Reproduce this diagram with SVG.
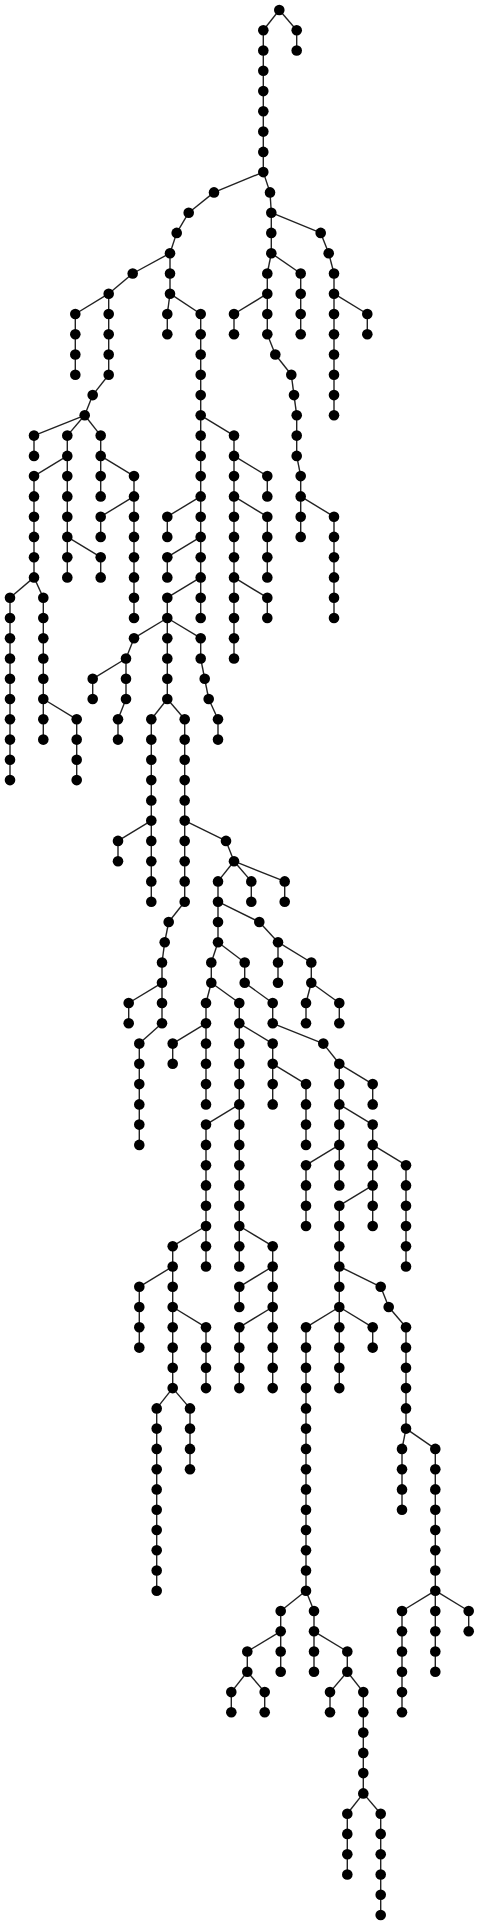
<svg xmlns="http://www.w3.org/2000/svg" width="479" height="1925" viewBox="0 0 479 1925">
<style>
#connectors path{stroke:#222;stroke-width:1.4;fill:none}
.n circle{fill:#000}
</style>
<rect width="479" height="1925" fill="#fff"/>
<g id="connectors">
<path d="M279.3 10L263.3 30.3"/><path d="M279.3 10L296.7 30.3"/>
<path d="M263.3 30.3L263.3 50.5"/><path d="M296.7 30.3L296.7 50.5"/>
<path d="M263.3 50.5L263.3 70.8"/><path d="M263.3 70.8L263.3 91.1"/><path d="M263.3 91.1L263.3 111.3"/><path d="M263.3 111.3L263.3 131.6"/><path d="M263.3 131.6L263.3 151.9"/><path d="M263.3 151.9L263.3 172.1"/>
<path d="M263.3 172.1L214 192.4"/><path d="M263.3 172.1L270 192.4"/>
<path d="M214 192.4L188.7 212.7"/><path d="M270 192.4L271.3 212.7"/>
<path d="M188.7 212.7L176.7 232.9"/><path d="M271.3 212.7L271.3 232.9"/><path d="M271.3 212.7L320.7 232.9"/>
<path d="M176.7 232.9L170 253.2"/><path d="M271.3 232.9L271.3 253.2"/><path d="M320.7 232.9L328.7 253.2"/>
<path d="M170 253.2L132.7 273.5"/><path d="M170 253.2L170 273.5"/><path d="M271.3 253.2L267.3 273.5"/><path d="M271.3 253.2L300.7 273.5"/><path d="M328.7 253.2L334 273.5"/>
<path d="M132.7 273.5L108.7 293.7"/><path d="M170 273.5L170 293.7"/><path d="M267.3 273.5L267.3 293.7"/><path d="M300.7 273.5L300.7 293.7"/><path d="M334 273.5L334 293.7"/>
<path d="M108.7 293.7L75.3 314"/><path d="M108.7 293.7L108.7 314"/><path d="M170 293.7L167.3 314"/><path d="M170 293.7L200.7 314"/><path d="M267.3 293.7L234 314"/><path d="M267.3 293.7L267.3 314"/><path d="M300.7 293.7L300.7 314"/><path d="M334 293.7L334 314"/><path d="M334 293.7L367.3 314"/>
<path d="M75.3 314L75.3 334.3"/><path d="M108.7 314L108.7 334.3"/><path d="M167.3 314L167.3 334.3"/><path d="M200.7 314L200.7 334.3"/><path d="M234 314L234 334.3"/><path d="M267.3 314L267.3 334.3"/><path d="M300.7 314L300.7 334.3"/><path d="M334 314L334 334.3"/><path d="M367.3 314L367.3 334.3"/>
<path d="M75.3 334.3L75.3 354.5"/><path d="M108.7 334.3L108.7 354.5"/><path d="M200.7 334.3L200.7 354.5"/><path d="M267.3 334.3L275.3 354.5"/><path d="M334 334.3L334 354.5"/>
<path d="M75.3 354.5L75.3 374.8"/><path d="M108.7 354.5L108.7 374.8"/><path d="M200.7 354.5L200.7 374.8"/><path d="M275.3 354.5L291.3 374.8"/><path d="M334 354.5L334 374.8"/>
<path d="M108.7 374.8L92.7 395.1"/><path d="M200.7 374.8L200.7 395.1"/><path d="M291.3 374.8L294 395.1"/><path d="M334 374.8L334 395.1"/>
<path d="M92.7 395.1L84.7 415.3"/><path d="M200.7 395.1L200.7 415.3"/><path d="M294 395.1L296.7 415.3"/><path d="M334 395.1L334 415.3"/>
<path d="M84.7 415.3L34 435.6"/><path d="M84.7 415.3L67.3 435.6"/><path d="M84.7 415.3L100.7 435.6"/><path d="M200.7 415.3L200.7 435.6"/><path d="M200.7 415.3L234 435.6"/><path d="M296.7 415.3L296.7 435.6"/>
<path d="M34 435.6L34 455.9"/><path d="M67.3 435.6L67.3 455.9"/><path d="M100.7 435.6L100.7 455.9"/><path d="M200.7 435.6L200.7 455.9"/><path d="M234 435.6L234 455.9"/><path d="M296.7 435.6L296.7 455.9"/>
<path d="M67.3 455.9L34 476.1"/><path d="M67.3 455.9L67.3 476.1"/><path d="M100.7 455.9L100.7 476.1"/><path d="M100.7 455.9L134 476.1"/><path d="M200.7 455.9L200.7 476.1"/><path d="M234 455.9L234 476.1"/><path d="M234 455.9L267.3 476.1"/><path d="M296.7 455.9L300.7 476.1"/>
<path d="M34 476.1L34 496.4"/><path d="M67.3 476.1L67.3 496.4"/><path d="M100.7 476.1L100.7 496.4"/><path d="M134 476.1L134 496.4"/><path d="M200.7 476.1L200.7 496.4"/><path d="M234 476.1L234 496.4"/><path d="M267.3 476.1L267.3 496.4"/><path d="M300.7 476.1L300.7 496.4"/>
<path d="M34 496.4L34 516.7"/><path d="M67.3 496.4L67.3 516.7"/><path d="M134 496.4L100.7 516.7"/><path d="M134 496.4L134 516.7"/><path d="M200.7 496.4L167.3 516.7"/><path d="M200.7 496.4L200.7 516.7"/><path d="M234 496.4L234 516.7"/><path d="M234 496.4L267.3 516.7"/><path d="M300.7 496.4L300.7 516.7"/><path d="M300.7 496.4L334 516.7"/>
<path d="M34 516.7L34 536.9"/><path d="M67.3 516.7L67.3 536.9"/><path d="M100.7 516.7L100.7 536.9"/><path d="M134 516.7L134 536.9"/><path d="M167.3 516.7L167.3 536.9"/><path d="M200.7 516.7L200.7 536.9"/><path d="M234 516.7L234 536.9"/><path d="M267.3 516.7L267.3 536.9"/><path d="M300.7 516.7L300.7 536.9"/><path d="M334 516.7L334 536.9"/>
<path d="M34 536.9L34 557.2"/><path d="M67.3 536.9L67.3 557.2"/><path d="M67.3 536.9L100.7 557.2"/><path d="M134 536.9L134 557.2"/><path d="M200.7 536.9L167.3 557.2"/><path d="M200.7 536.9L200.7 557.2"/><path d="M234 536.9L234 557.2"/><path d="M267.3 536.9L267.3 557.2"/><path d="M334 536.9L334 557.2"/>
<path d="M34 557.2L34 577.4"/><path d="M67.3 557.2L67.3 577.4"/><path d="M100.7 557.2L100.7 577.4"/><path d="M134 557.2L134 577.4"/><path d="M167.3 557.2L167.3 577.4"/><path d="M200.7 557.2L200.7 577.4"/><path d="M234 557.2L234 577.4"/><path d="M267.3 557.2L267.3 577.4"/><path d="M334 557.2L334 577.4"/>
<path d="M34 577.4L10 597.7"/><path d="M34 577.4L43.3 597.7"/><path d="M134 577.4L134 597.7"/><path d="M200.7 577.4L167.3 597.7"/><path d="M200.7 577.4L200.7 597.7"/><path d="M234 577.4L234 597.7"/><path d="M234 577.4L267.3 597.7"/><path d="M334 577.4L334 597.7"/>
<path d="M10 597.7L10 618"/><path d="M43.3 597.7L43.3 618"/><path d="M134 597.7L134 618"/><path d="M167.3 597.7L167.3 618"/><path d="M200.7 597.7L200.7 618"/><path d="M234 597.7L234 618"/><path d="M267.3 597.7L267.3 618"/><path d="M334 597.7L334 618"/>
<path d="M10 618L10 638.2"/><path d="M43.3 618L43.3 638.2"/><path d="M167.3 618L134 638.2"/><path d="M167.3 618L167.3 638.2"/><path d="M167.3 618L200.7 638.2"/><path d="M234 618L234 638.2"/>
<path d="M10 638.2L10 658.5"/><path d="M43.3 638.2L43.3 658.5"/><path d="M134 638.2L126 658.5"/><path d="M167.3 638.2L167.3 658.5"/><path d="M200.7 638.2L200.7 658.5"/><path d="M234 638.2L234 658.5"/>
<path d="M10 658.5L10 678.8"/><path d="M43.3 658.5L43.3 678.8"/><path d="M126 658.5L92.7 678.8"/><path d="M126 658.5L126 678.8"/><path d="M167.3 658.5L167.3 678.8"/><path d="M200.7 658.5L204.7 678.8"/>
<path d="M10 678.8L10 699"/><path d="M43.3 678.8L43.3 699"/><path d="M92.7 678.8L92.7 699"/><path d="M126 678.8L126 699"/><path d="M167.3 678.8L167.3 699"/><path d="M204.7 678.8L208.7 699"/>
<path d="M10 699L10 719.3"/><path d="M43.3 699L43.3 719.3"/><path d="M43.3 699L76.7 719.3"/><path d="M126 699L118 719.3"/><path d="M167.3 699L151.3 719.3"/><path d="M167.3 699L184.7 719.3"/><path d="M208.7 699L218 719.3"/>
<path d="M10 719.3L10 739.6"/><path d="M43.3 719.3L43.3 739.6"/><path d="M76.7 719.3L76.7 739.6"/><path d="M118 719.3L118 739.6"/><path d="M151.3 719.3L151.3 739.6"/><path d="M184.7 719.3L184.7 739.6"/><path d="M218 719.3L218 739.6"/>
<path d="M10 739.6L10 759.8"/><path d="M76.7 739.6L76.7 759.8"/><path d="M151.3 739.6L151.3 759.8"/><path d="M184.7 739.6L184.7 759.8"/>
<path d="M10 759.8L10 780.1"/><path d="M76.7 759.8L76.7 780.1"/><path d="M151.3 759.8L151.3 780.1"/><path d="M184.7 759.8L184.7 780.1"/>
<path d="M151.3 780.1L151.3 800.4"/><path d="M184.7 780.1L184.7 800.4"/>
<path d="M151.3 800.4L151.3 820.6"/><path d="M184.7 800.4L184.7 820.6"/>
<path d="M151.3 820.6L118 840.9"/><path d="M151.3 820.6L151.3 840.9"/><path d="M184.7 820.6L184.7 840.9"/><path d="M184.7 820.6L226 840.9"/>
<path d="M118 840.9L118 861.2"/><path d="M151.3 840.9L151.3 861.2"/><path d="M184.7 840.9L184.7 861.2"/><path d="M226 840.9L234 861.2"/>
<path d="M151.3 861.2L151.3 881.4"/><path d="M184.7 861.2L184.7 881.4"/><path d="M234 861.2L218 881.4"/><path d="M234 861.2L251.3 881.4"/><path d="M234 861.2L284.7 881.4"/>
<path d="M151.3 881.4L151.3 901.7"/><path d="M184.7 881.4L184.7 901.7"/><path d="M218 881.4L218 901.7"/><path d="M251.3 881.4L251.3 901.7"/><path d="M284.7 881.4L284.7 901.7"/>
<path d="M184.7 901.7L168.7 922"/><path d="M218 901.7L218 922"/><path d="M218 901.7L259.3 922"/>
<path d="M168.7 922L164.7 942.2"/><path d="M218 922L218 942.2"/><path d="M259.3 922L278 942.2"/>
<path d="M164.7 942.2L162 962.5"/><path d="M218 942.2L211.3 962.5"/><path d="M218 942.2L244.7 962.5"/><path d="M278 942.2L278 962.5"/><path d="M278 942.2L311.3 962.5"/>
<path d="M162 962.5L162 982.8"/><path d="M211.3 962.5L211.3 982.8"/><path d="M244.7 962.5L244.7 982.8"/><path d="M278 962.5L278 982.8"/><path d="M311.3 962.5L311.3 982.8"/>
<path d="M162 982.8L128.7 1003"/><path d="M162 982.8L162 1003"/><path d="M211.3 982.8L206 1003"/><path d="M211.3 982.8L239.3 1003"/><path d="M244.7 982.8L272.7 1003"/><path d="M311.3 982.8L306 1003"/><path d="M311.3 982.8L339.3 1003"/>
<path d="M128.7 1003L128.7 1023.3"/><path d="M162 1003L162 1023.3"/><path d="M206 1003L206 1023.3"/><path d="M239.3 1003L239.3 1023.3"/><path d="M272.7 1003L272.7 1023.3"/><path d="M306 1003L306 1023.3"/><path d="M339.3 1003L339.3 1023.3"/>
<path d="M162 1023.3L139.3 1043.6"/><path d="M206 1023.3L172.7 1043.6"/><path d="M206 1023.3L206 1043.6"/><path d="M239.3 1023.3L239.3 1043.6"/><path d="M239.3 1023.3L272.7 1043.6"/><path d="M272.7 1023.3L323.3 1043.6"/>
<path d="M139.3 1043.6L139.3 1063.8"/><path d="M172.7 1043.6L172.7 1063.8"/><path d="M206 1043.6L206 1063.8"/><path d="M239.3 1043.6L239.3 1063.8"/><path d="M272.7 1043.6L272.7 1063.8"/><path d="M323.3 1043.6L339.3 1063.8"/>
<path d="M139.3 1063.8L139.3 1084.1"/><path d="M206 1063.8L206 1084.1"/><path d="M239.3 1063.8L239.3 1084.1"/><path d="M272.7 1063.8L272.7 1084.1"/><path d="M272.7 1063.8L306 1084.1"/><path d="M339.3 1063.8L339.3 1084.1"/><path d="M339.3 1063.8L372.7 1084.1"/>
<path d="M139.3 1084.1L139.3 1104.4"/><path d="M206 1084.1L206 1104.4"/><path d="M239.3 1084.1L239.3 1104.4"/><path d="M272.7 1084.1L272.7 1104.4"/><path d="M306 1084.1L306 1104.4"/><path d="M339.3 1084.1L339.3 1104.4"/><path d="M372.7 1084.1L372.7 1104.4"/>
<path d="M139.3 1104.4L139.3 1124.6"/><path d="M239.3 1104.4L206 1124.6"/><path d="M239.3 1104.4L239.3 1124.6"/><path d="M306 1104.4L306 1124.6"/><path d="M339.3 1104.4L339.3 1124.6"/><path d="M339.3 1104.4L372.7 1124.6"/>
<path d="M139.3 1124.6L139.3 1144.9"/><path d="M206 1124.6L206 1144.9"/><path d="M239.3 1124.6L239.3 1144.9"/><path d="M306 1124.6L306 1144.9"/><path d="M339.3 1124.6L339.3 1144.9"/><path d="M372.7 1124.6L372.7 1144.9"/>
<path d="M206 1144.9L206 1165.2"/><path d="M239.3 1144.9L239.3 1165.2"/><path d="M339.3 1144.9L306 1165.2"/><path d="M339.3 1144.9L339.3 1165.2"/><path d="M372.7 1144.9L372.7 1165.2"/><path d="M372.7 1144.9L406 1165.2"/>
<path d="M206 1165.2L206 1185.4"/><path d="M239.3 1165.2L239.3 1185.4"/><path d="M306 1165.2L306 1185.4"/><path d="M339.3 1165.2L339.3 1185.4"/><path d="M372.7 1165.2L372.7 1185.4"/><path d="M406 1165.2L406 1185.4"/>
<path d="M206 1185.4L206 1205.7"/><path d="M239.3 1185.4L239.3 1205.7"/><path d="M306 1185.4L306 1205.7"/><path d="M372.7 1185.4L339.3 1205.7"/><path d="M372.7 1185.4L372.7 1205.7"/><path d="M406 1185.4L406 1205.7"/>
<path d="M206 1205.7L206 1226"/><path d="M239.3 1205.7L239.3 1226"/><path d="M306 1205.7L306 1226"/><path d="M339.3 1205.7L339.3 1226"/><path d="M372.7 1205.7L372.7 1226"/><path d="M406 1205.7L406 1226"/>
<path d="M206 1226L172.7 1246.2"/><path d="M206 1226L206 1246.2"/><path d="M239.3 1226L239.3 1246.2"/><path d="M239.3 1226L272.7 1246.2"/><path d="M339.3 1226L339.3 1246.2"/><path d="M406 1226L406 1246.2"/>
<path d="M172.7 1246.2L172.7 1266.5"/><path d="M206 1246.2L206 1266.5"/><path d="M239.3 1246.2L239.3 1266.5"/><path d="M272.7 1246.2L272.7 1266.5"/><path d="M339.3 1246.2L339.3 1266.5"/><path d="M406 1246.2L406 1266.5"/>
<path d="M172.7 1266.5L139.3 1286.8"/><path d="M172.7 1266.5L172.7 1286.8"/><path d="M272.7 1266.5L239.3 1286.8"/><path d="M272.7 1266.5L272.7 1286.8"/><path d="M339.3 1266.5L339.3 1286.8"/><path d="M339.3 1266.5L380.7 1286.8"/>
<path d="M139.3 1286.8L139.3 1307"/><path d="M172.7 1286.8L172.7 1307"/><path d="M239.3 1286.8L239.3 1307"/><path d="M272.7 1286.8L272.7 1307"/><path d="M339.3 1286.8L339.3 1307"/><path d="M380.7 1286.8L388.7 1307"/>
<path d="M139.3 1307L139.3 1327.3"/><path d="M172.7 1307L172.7 1327.3"/><path d="M172.7 1307L206 1327.3"/><path d="M272.7 1307L239.3 1327.3"/><path d="M272.7 1307L272.7 1327.3"/><path d="M339.3 1307L306 1327.3"/><path d="M339.3 1307L339.3 1327.3"/><path d="M339.3 1307L372.7 1327.3"/><path d="M388.7 1307L406 1327.3"/>
<path d="M139.3 1327.3L139.3 1347.6"/><path d="M172.7 1327.3L172.7 1347.6"/><path d="M206 1327.3L206 1347.6"/><path d="M239.3 1327.3L239.3 1347.6"/><path d="M272.7 1327.3L272.7 1347.6"/><path d="M306 1327.3L306 1347.6"/><path d="M339.3 1327.3L339.3 1347.6"/><path d="M372.7 1327.3L372.7 1347.6"/><path d="M406 1327.3L406 1347.6"/>
<path d="M172.7 1347.6L172.7 1367.8"/><path d="M206 1347.6L206 1367.8"/><path d="M239.3 1347.6L239.3 1367.8"/><path d="M272.7 1347.6L272.7 1367.8"/><path d="M306 1347.6L306 1367.8"/><path d="M339.3 1347.6L339.3 1367.8"/><path d="M406 1347.6L406 1367.8"/>
<path d="M172.7 1367.8L172.7 1388.1"/><path d="M206 1367.8L206 1388.1"/><path d="M239.3 1367.8L239.3 1388.1"/><path d="M272.7 1367.8L272.7 1388.1"/><path d="M306 1367.8L306 1388.1"/><path d="M339.3 1367.8L339.3 1388.1"/><path d="M406 1367.8L406 1388.1"/>
<path d="M172.7 1388.1L156.7 1408.4"/><path d="M172.7 1388.1L190 1408.4"/><path d="M306 1388.1L306 1408.4"/><path d="M406 1388.1L406 1408.4"/>
<path d="M156.7 1408.4L156.7 1428.6"/><path d="M190 1408.4L190 1428.6"/><path d="M306 1408.4L306 1428.6"/><path d="M406 1408.4L406 1428.6"/>
<path d="M156.7 1428.6L156.7 1448.9"/><path d="M190 1428.6L190 1448.9"/><path d="M306 1428.6L306 1448.9"/><path d="M406 1428.6L402 1448.9"/><path d="M406 1428.6L435.3 1448.9"/>
<path d="M156.7 1448.9L156.7 1469.2"/><path d="M190 1448.9L190 1469.2"/><path d="M306 1448.9L306 1469.2"/><path d="M402 1448.9L402 1469.2"/><path d="M435.3 1448.9L435.3 1469.2"/>
<path d="M156.7 1469.2L156.7 1489.4"/><path d="M306 1469.2L306 1489.4"/><path d="M402 1469.2L402 1489.4"/><path d="M435.3 1469.2L435.3 1489.4"/>
<path d="M156.7 1489.4L156.7 1509.7"/><path d="M306 1489.4L306 1509.7"/><path d="M402 1489.4L402 1509.7"/><path d="M435.3 1489.4L435.3 1509.7"/>
<path d="M156.7 1509.7L156.7 1530"/><path d="M306 1509.7L306 1530"/><path d="M435.3 1509.7L435.3 1530"/>
<path d="M156.7 1530L156.7 1550.2"/><path d="M306 1530L306 1550.2"/><path d="M435.3 1530L435.3 1550.2"/>
<path d="M156.7 1550.2L156.7 1570.5"/><path d="M306 1550.2L306 1570.5"/><path d="M435.3 1550.2L435.3 1570.5"/>
<path d="M156.7 1570.5L156.7 1590.7"/><path d="M306 1570.5L306 1590.7"/><path d="M435.3 1570.5L435.3 1590.7"/>
<path d="M306 1590.7L280.7 1611"/><path d="M306 1590.7L314 1611"/><path d="M435.3 1590.7L402 1611"/><path d="M435.3 1590.7L435.3 1611"/><path d="M435.3 1590.7L468.7 1611"/>
<path d="M280.7 1611L280.7 1631.3"/><path d="M314 1611L314 1631.3"/><path d="M402 1611L402 1631.3"/><path d="M435.3 1611L435.3 1631.3"/><path d="M468.7 1611L468.7 1631.3"/>
<path d="M280.7 1631.3L247.3 1651.5"/><path d="M280.7 1631.3L280.7 1651.5"/><path d="M314 1631.3L314 1651.5"/><path d="M314 1631.3L347.3 1651.5"/><path d="M402 1631.3L402 1651.5"/><path d="M435.3 1631.3L435.3 1651.5"/>
<path d="M247.3 1651.5L247.3 1671.8"/><path d="M280.7 1651.5L280.7 1671.8"/><path d="M314 1651.5L314 1671.8"/><path d="M347.3 1651.5L347.3 1671.8"/><path d="M402 1651.5L402 1671.8"/><path d="M435.3 1651.5L435.3 1671.8"/>
<path d="M247.3 1671.8L231.3 1692.1"/><path d="M247.3 1671.8L264.7 1692.1"/><path d="M347.3 1671.8L330 1692.1"/><path d="M347.3 1671.8L363.3 1692.1"/><path d="M402 1671.8L402 1692.1"/>
<path d="M231.3 1692.1L231.3 1712.3"/><path d="M264.7 1692.1L264.7 1712.3"/><path d="M330 1692.1L330 1712.3"/><path d="M363.3 1692.1L363.3 1712.3"/><path d="M402 1692.1L402 1712.3"/>
<path d="M363.3 1712.3L363.3 1732.6"/><path d="M363.3 1732.6L363.3 1752.9"/><path d="M363.3 1752.9L363.3 1773.1"/><path d="M363.3 1773.1L363.3 1793.4"/>
<path d="M363.3 1793.4L347.3 1813.7"/><path d="M363.3 1793.4L380.7 1813.7"/>
<path d="M347.3 1813.7L347.3 1833.9"/><path d="M380.7 1813.7L380.7 1833.9"/>
<path d="M347.3 1833.9L347.3 1854.2"/><path d="M380.7 1833.9L380.7 1854.2"/>
<path d="M347.3 1854.2L347.3 1874.5"/><path d="M380.7 1854.2L380.7 1874.5"/>
<path d="M380.7 1874.5L380.7 1894.7"/><path d="M380.7 1894.7L380.7 1915"/>
</g>
<g id="nodes">
<g id="n1" class="n"><circle cx="279.3" cy="10" r="5.3"/></g>
<g id="n2" class="n"><circle cx="263.3" cy="30.3" r="5.3"/></g>
<g id="n3" class="n"><circle cx="296.7" cy="30.3" r="5.3"/></g>
<g id="n4" class="n"><circle cx="263.3" cy="50.5" r="5.3"/></g>
<g id="n5" class="n"><circle cx="296.7" cy="50.5" r="5.3"/></g>
<g id="n6" class="n"><circle cx="263.3" cy="70.8" r="5.3"/></g>
<g id="n7" class="n"><circle cx="263.3" cy="91.1" r="5.3"/></g>
<g id="n8" class="n"><circle cx="263.3" cy="111.3" r="5.3"/></g>
<g id="n9" class="n"><circle cx="263.3" cy="131.6" r="5.3"/></g>
<g id="n10" class="n"><circle cx="263.3" cy="151.9" r="5.3"/></g>
<g id="n11" class="n"><circle cx="263.3" cy="172.1" r="5.3"/></g>
<g id="n12" class="n"><circle cx="214" cy="192.4" r="5.3"/></g>
<g id="n13" class="n"><circle cx="270" cy="192.4" r="5.3"/></g>
<g id="n14" class="n"><circle cx="188.7" cy="212.7" r="5.3"/></g>
<g id="n15" class="n"><circle cx="271.3" cy="212.7" r="5.3"/></g>
<g id="n16" class="n"><circle cx="176.7" cy="232.9" r="5.3"/></g>
<g id="n17" class="n"><circle cx="271.3" cy="232.9" r="5.3"/></g>
<g id="n18" class="n"><circle cx="320.7" cy="232.9" r="5.3"/></g>
<g id="n19" class="n"><circle cx="170" cy="253.2" r="5.3"/></g>
<g id="n20" class="n"><circle cx="271.3" cy="253.2" r="5.3"/></g>
<g id="n21" class="n"><circle cx="328.7" cy="253.2" r="5.3"/></g>
<g id="n22" class="n"><circle cx="132.7" cy="273.5" r="5.3"/></g>
<g id="n23" class="n"><circle cx="170" cy="273.5" r="5.3"/></g>
<g id="n24" class="n"><circle cx="267.3" cy="273.5" r="5.3"/></g>
<g id="n25" class="n"><circle cx="300.7" cy="273.5" r="5.3"/></g>
<g id="n26" class="n"><circle cx="334" cy="273.5" r="5.3"/></g>
<g id="n27" class="n"><circle cx="108.7" cy="293.7" r="5.3"/></g>
<g id="n28" class="n"><circle cx="170" cy="293.7" r="5.3"/></g>
<g id="n29" class="n"><circle cx="267.3" cy="293.7" r="5.3"/></g>
<g id="n30" class="n"><circle cx="300.7" cy="293.7" r="5.3"/></g>
<g id="n31" class="n"><circle cx="334" cy="293.7" r="5.3"/></g>
<g id="n32" class="n"><circle cx="75.3" cy="314" r="5.3"/></g>
<g id="n33" class="n"><circle cx="108.7" cy="314" r="5.3"/></g>
<g id="n34" class="n"><circle cx="167.3" cy="314" r="5.3"/></g>
<g id="n35" class="n"><circle cx="200.7" cy="314" r="5.3"/></g>
<g id="n36" class="n"><circle cx="234" cy="314" r="5.3"/></g>
<g id="n37" class="n"><circle cx="267.3" cy="314" r="5.3"/></g>
<g id="n38" class="n"><circle cx="300.7" cy="314" r="5.3"/></g>
<g id="n39" class="n"><circle cx="334" cy="314" r="5.3"/></g>
<g id="n40" class="n"><circle cx="367.3" cy="314" r="5.3"/></g>
<g id="n41" class="n"><circle cx="75.3" cy="334.3" r="5.3"/></g>
<g id="n42" class="n"><circle cx="108.7" cy="334.3" r="5.3"/></g>
<g id="n43" class="n"><circle cx="167.3" cy="334.3" r="5.3"/></g>
<g id="n44" class="n"><circle cx="200.7" cy="334.3" r="5.3"/></g>
<g id="n45" class="n"><circle cx="234" cy="334.3" r="5.3"/></g>
<g id="n46" class="n"><circle cx="267.3" cy="334.3" r="5.3"/></g>
<g id="n47" class="n"><circle cx="300.7" cy="334.3" r="5.3"/></g>
<g id="n48" class="n"><circle cx="334" cy="334.3" r="5.3"/></g>
<g id="n49" class="n"><circle cx="367.3" cy="334.3" r="5.3"/></g>
<g id="n50" class="n"><circle cx="75.3" cy="354.5" r="5.3"/></g>
<g id="n51" class="n"><circle cx="108.7" cy="354.5" r="5.3"/></g>
<g id="n52" class="n"><circle cx="200.7" cy="354.5" r="5.3"/></g>
<g id="n53" class="n"><circle cx="275.3" cy="354.5" r="5.3"/></g>
<g id="n54" class="n"><circle cx="334" cy="354.5" r="5.3"/></g>
<g id="n55" class="n"><circle cx="75.3" cy="374.8" r="5.3"/></g>
<g id="n56" class="n"><circle cx="108.7" cy="374.8" r="5.3"/></g>
<g id="n57" class="n"><circle cx="200.7" cy="374.8" r="5.3"/></g>
<g id="n58" class="n"><circle cx="291.3" cy="374.8" r="5.3"/></g>
<g id="n59" class="n"><circle cx="334" cy="374.8" r="5.3"/></g>
<g id="n60" class="n"><circle cx="92.7" cy="395.1" r="5.3"/></g>
<g id="n61" class="n"><circle cx="200.7" cy="395.1" r="5.3"/></g>
<g id="n62" class="n"><circle cx="294" cy="395.1" r="5.3"/></g>
<g id="n63" class="n"><circle cx="334" cy="395.1" r="5.3"/></g>
<g id="n64" class="n"><circle cx="84.7" cy="415.3" r="5.3"/></g>
<g id="n65" class="n"><circle cx="200.7" cy="415.3" r="5.3"/></g>
<g id="n66" class="n"><circle cx="296.7" cy="415.3" r="5.3"/></g>
<g id="n67" class="n"><circle cx="334" cy="415.3" r="5.3"/></g>
<g id="n68" class="n"><circle cx="34" cy="435.6" r="5.3"/></g>
<g id="n69" class="n"><circle cx="67.3" cy="435.6" r="5.3"/></g>
<g id="n70" class="n"><circle cx="100.7" cy="435.6" r="5.3"/></g>
<g id="n71" class="n"><circle cx="200.7" cy="435.6" r="5.3"/></g>
<g id="n72" class="n"><circle cx="234" cy="435.6" r="5.3"/></g>
<g id="n73" class="n"><circle cx="296.7" cy="435.6" r="5.3"/></g>
<g id="n74" class="n"><circle cx="34" cy="455.9" r="5.3"/></g>
<g id="n75" class="n"><circle cx="67.3" cy="455.9" r="5.3"/></g>
<g id="n76" class="n"><circle cx="100.7" cy="455.9" r="5.3"/></g>
<g id="n77" class="n"><circle cx="200.7" cy="455.9" r="5.3"/></g>
<g id="n78" class="n"><circle cx="234" cy="455.9" r="5.3"/></g>
<g id="n79" class="n"><circle cx="296.7" cy="455.9" r="5.3"/></g>
<g id="n80" class="n"><circle cx="34" cy="476.1" r="5.3"/></g>
<g id="n81" class="n"><circle cx="67.3" cy="476.1" r="5.3"/></g>
<g id="n82" class="n"><circle cx="100.7" cy="476.1" r="5.3"/></g>
<g id="n83" class="n"><circle cx="134" cy="476.1" r="5.3"/></g>
<g id="n84" class="n"><circle cx="200.7" cy="476.1" r="5.3"/></g>
<g id="n85" class="n"><circle cx="234" cy="476.1" r="5.3"/></g>
<g id="n86" class="n"><circle cx="267.3" cy="476.1" r="5.3"/></g>
<g id="n87" class="n"><circle cx="300.7" cy="476.1" r="5.3"/></g>
<g id="n88" class="n"><circle cx="34" cy="496.4" r="5.3"/></g>
<g id="n89" class="n"><circle cx="67.3" cy="496.4" r="5.3"/></g>
<g id="n90" class="n"><circle cx="100.7" cy="496.4" r="5.3"/></g>
<g id="n91" class="n"><circle cx="134" cy="496.4" r="5.3"/></g>
<g id="n92" class="n"><circle cx="200.7" cy="496.4" r="5.3"/></g>
<g id="n93" class="n"><circle cx="234" cy="496.4" r="5.3"/></g>
<g id="n94" class="n"><circle cx="267.3" cy="496.4" r="5.3"/></g>
<g id="n95" class="n"><circle cx="300.7" cy="496.4" r="5.3"/></g>
<g id="n96" class="n"><circle cx="34" cy="516.7" r="5.3"/></g>
<g id="n97" class="n"><circle cx="67.3" cy="516.7" r="5.3"/></g>
<g id="n98" class="n"><circle cx="100.7" cy="516.7" r="5.3"/></g>
<g id="n99" class="n"><circle cx="134" cy="516.7" r="5.3"/></g>
<g id="n100" class="n"><circle cx="167.3" cy="516.7" r="5.3"/></g>
<g id="n101" class="n"><circle cx="200.7" cy="516.7" r="5.3"/></g>
<g id="n102" class="n"><circle cx="234" cy="516.7" r="5.3"/></g>
<g id="n103" class="n"><circle cx="267.3" cy="516.7" r="5.3"/></g>
<g id="n104" class="n"><circle cx="300.7" cy="516.7" r="5.3"/></g>
<g id="n105" class="n"><circle cx="334" cy="516.7" r="5.3"/></g>
<g id="n106" class="n"><circle cx="34" cy="536.9" r="5.3"/></g>
<g id="n107" class="n"><circle cx="67.3" cy="536.9" r="5.3"/></g>
<g id="n108" class="n"><circle cx="100.7" cy="536.9" r="5.3"/></g>
<g id="n109" class="n"><circle cx="134" cy="536.9" r="5.3"/></g>
<g id="n110" class="n"><circle cx="167.3" cy="536.9" r="5.3"/></g>
<g id="n111" class="n"><circle cx="200.7" cy="536.9" r="5.3"/></g>
<g id="n112" class="n"><circle cx="234" cy="536.9" r="5.3"/></g>
<g id="n113" class="n"><circle cx="267.3" cy="536.9" r="5.3"/></g>
<g id="n114" class="n"><circle cx="300.7" cy="536.9" r="5.3"/></g>
<g id="n115" class="n"><circle cx="334" cy="536.9" r="5.3"/></g>
<g id="n116" class="n"><circle cx="34" cy="557.2" r="5.3"/></g>
<g id="n117" class="n"><circle cx="67.3" cy="557.2" r="5.3"/></g>
<g id="n118" class="n"><circle cx="100.7" cy="557.2" r="5.3"/></g>
<g id="n119" class="n"><circle cx="134" cy="557.2" r="5.3"/></g>
<g id="n120" class="n"><circle cx="167.3" cy="557.2" r="5.3"/></g>
<g id="n121" class="n"><circle cx="200.7" cy="557.2" r="5.3"/></g>
<g id="n122" class="n"><circle cx="234" cy="557.2" r="5.3"/></g>
<g id="n123" class="n"><circle cx="267.3" cy="557.2" r="5.3"/></g>
<g id="n124" class="n"><circle cx="334" cy="557.2" r="5.3"/></g>
<g id="n125" class="n"><circle cx="34" cy="577.4" r="5.3"/></g>
<g id="n126" class="n"><circle cx="67.3" cy="577.4" r="5.3"/></g>
<g id="n127" class="n"><circle cx="100.7" cy="577.4" r="5.3"/></g>
<g id="n128" class="n"><circle cx="134" cy="577.4" r="5.3"/></g>
<g id="n129" class="n"><circle cx="167.3" cy="577.4" r="5.3"/></g>
<g id="n130" class="n"><circle cx="200.7" cy="577.4" r="5.3"/></g>
<g id="n131" class="n"><circle cx="234" cy="577.4" r="5.3"/></g>
<g id="n132" class="n"><circle cx="267.3" cy="577.4" r="5.3"/></g>
<g id="n133" class="n"><circle cx="334" cy="577.4" r="5.3"/></g>
<g id="n134" class="n"><circle cx="10" cy="597.7" r="5.3"/></g>
<g id="n135" class="n"><circle cx="43.3" cy="597.7" r="5.3"/></g>
<g id="n136" class="n"><circle cx="134" cy="597.7" r="5.3"/></g>
<g id="n137" class="n"><circle cx="167.3" cy="597.7" r="5.3"/></g>
<g id="n138" class="n"><circle cx="200.7" cy="597.7" r="5.3"/></g>
<g id="n139" class="n"><circle cx="234" cy="597.7" r="5.3"/></g>
<g id="n140" class="n"><circle cx="267.3" cy="597.7" r="5.3"/></g>
<g id="n141" class="n"><circle cx="334" cy="597.7" r="5.3"/></g>
<g id="n142" class="n"><circle cx="10" cy="618" r="5.3"/></g>
<g id="n143" class="n"><circle cx="43.3" cy="618" r="5.3"/></g>
<g id="n144" class="n"><circle cx="134" cy="618" r="5.3"/></g>
<g id="n145" class="n"><circle cx="167.3" cy="618" r="5.3"/></g>
<g id="n146" class="n"><circle cx="200.7" cy="618" r="5.3"/></g>
<g id="n147" class="n"><circle cx="234" cy="618" r="5.3"/></g>
<g id="n148" class="n"><circle cx="267.3" cy="618" r="5.3"/></g>
<g id="n149" class="n"><circle cx="334" cy="618" r="5.3"/></g>
<g id="n150" class="n"><circle cx="10" cy="638.2" r="5.3"/></g>
<g id="n151" class="n"><circle cx="43.3" cy="638.2" r="5.3"/></g>
<g id="n152" class="n"><circle cx="134" cy="638.2" r="5.3"/></g>
<g id="n153" class="n"><circle cx="167.3" cy="638.2" r="5.3"/></g>
<g id="n154" class="n"><circle cx="200.7" cy="638.2" r="5.3"/></g>
<g id="n155" class="n"><circle cx="234" cy="638.2" r="5.3"/></g>
<g id="n156" class="n"><circle cx="10" cy="658.5" r="5.3"/></g>
<g id="n157" class="n"><circle cx="43.3" cy="658.5" r="5.3"/></g>
<g id="n158" class="n"><circle cx="126" cy="658.5" r="5.3"/></g>
<g id="n159" class="n"><circle cx="167.3" cy="658.5" r="5.3"/></g>
<g id="n160" class="n"><circle cx="200.7" cy="658.5" r="5.3"/></g>
<g id="n161" class="n"><circle cx="234" cy="658.5" r="5.3"/></g>
<g id="n162" class="n"><circle cx="10" cy="678.8" r="5.3"/></g>
<g id="n163" class="n"><circle cx="43.3" cy="678.8" r="5.3"/></g>
<g id="n164" class="n"><circle cx="92.7" cy="678.8" r="5.3"/></g>
<g id="n165" class="n"><circle cx="126" cy="678.8" r="5.3"/></g>
<g id="n166" class="n"><circle cx="167.3" cy="678.8" r="5.3"/></g>
<g id="n167" class="n"><circle cx="204.7" cy="678.8" r="5.3"/></g>
<g id="n168" class="n"><circle cx="10" cy="699" r="5.3"/></g>
<g id="n169" class="n"><circle cx="43.3" cy="699" r="5.3"/></g>
<g id="n170" class="n"><circle cx="92.7" cy="699" r="5.3"/></g>
<g id="n171" class="n"><circle cx="126" cy="699" r="5.3"/></g>
<g id="n172" class="n"><circle cx="167.3" cy="699" r="5.3"/></g>
<g id="n173" class="n"><circle cx="208.7" cy="699" r="5.3"/></g>
<g id="n174" class="n"><circle cx="10" cy="719.3" r="5.3"/></g>
<g id="n175" class="n"><circle cx="43.3" cy="719.3" r="5.3"/></g>
<g id="n176" class="n"><circle cx="76.7" cy="719.3" r="5.3"/></g>
<g id="n177" class="n"><circle cx="118" cy="719.3" r="5.3"/></g>
<g id="n178" class="n"><circle cx="151.3" cy="719.3" r="5.3"/></g>
<g id="n179" class="n"><circle cx="184.7" cy="719.3" r="5.3"/></g>
<g id="n180" class="n"><circle cx="218" cy="719.3" r="5.3"/></g>
<g id="n181" class="n"><circle cx="10" cy="739.6" r="5.3"/></g>
<g id="n182" class="n"><circle cx="43.3" cy="739.6" r="5.3"/></g>
<g id="n183" class="n"><circle cx="76.7" cy="739.6" r="5.3"/></g>
<g id="n184" class="n"><circle cx="118" cy="739.6" r="5.3"/></g>
<g id="n185" class="n"><circle cx="151.3" cy="739.6" r="5.3"/></g>
<g id="n186" class="n"><circle cx="184.7" cy="739.6" r="5.3"/></g>
<g id="n187" class="n"><circle cx="218" cy="739.6" r="5.3"/></g>
<g id="n188" class="n"><circle cx="10" cy="759.8" r="5.3"/></g>
<g id="n189" class="n"><circle cx="76.7" cy="759.8" r="5.3"/></g>
<g id="n190" class="n"><circle cx="151.3" cy="759.8" r="5.3"/></g>
<g id="n191" class="n"><circle cx="184.7" cy="759.8" r="5.3"/></g>
<g id="n192" class="n"><circle cx="10" cy="780.1" r="5.3"/></g>
<g id="n193" class="n"><circle cx="76.7" cy="780.1" r="5.3"/></g>
<g id="n194" class="n"><circle cx="151.3" cy="780.1" r="5.3"/></g>
<g id="n195" class="n"><circle cx="184.7" cy="780.1" r="5.3"/></g>
<g id="n196" class="n"><circle cx="151.3" cy="800.4" r="5.3"/></g>
<g id="n197" class="n"><circle cx="184.7" cy="800.4" r="5.3"/></g>
<g id="n198" class="n"><circle cx="151.3" cy="820.6" r="5.3"/></g>
<g id="n199" class="n"><circle cx="184.7" cy="820.6" r="5.3"/></g>
<g id="n200" class="n"><circle cx="118" cy="840.9" r="5.3"/></g>
<g id="n201" class="n"><circle cx="151.3" cy="840.9" r="5.3"/></g>
<g id="n202" class="n"><circle cx="184.7" cy="840.9" r="5.3"/></g>
<g id="n203" class="n"><circle cx="226" cy="840.9" r="5.3"/></g>
<g id="n204" class="n"><circle cx="118" cy="861.2" r="5.3"/></g>
<g id="n205" class="n"><circle cx="151.3" cy="861.2" r="5.3"/></g>
<g id="n206" class="n"><circle cx="184.7" cy="861.2" r="5.3"/></g>
<g id="n207" class="n"><circle cx="234" cy="861.2" r="5.3"/></g>
<g id="n208" class="n"><circle cx="151.3" cy="881.4" r="5.3"/></g>
<g id="n209" class="n"><circle cx="184.7" cy="881.4" r="5.3"/></g>
<g id="n210" class="n"><circle cx="218" cy="881.4" r="5.3"/></g>
<g id="n211" class="n"><circle cx="251.3" cy="881.4" r="5.3"/></g>
<g id="n212" class="n"><circle cx="284.7" cy="881.4" r="5.3"/></g>
<g id="n213" class="n"><circle cx="151.3" cy="901.7" r="5.3"/></g>
<g id="n214" class="n"><circle cx="184.7" cy="901.7" r="5.3"/></g>
<g id="n215" class="n"><circle cx="218" cy="901.7" r="5.3"/></g>
<g id="n216" class="n"><circle cx="251.3" cy="901.7" r="5.3"/></g>
<g id="n217" class="n"><circle cx="284.7" cy="901.7" r="5.3"/></g>
<g id="n218" class="n"><circle cx="168.7" cy="922" r="5.3"/></g>
<g id="n219" class="n"><circle cx="218" cy="922" r="5.3"/></g>
<g id="n220" class="n"><circle cx="259.3" cy="922" r="5.3"/></g>
<g id="n221" class="n"><circle cx="164.7" cy="942.2" r="5.3"/></g>
<g id="n222" class="n"><circle cx="218" cy="942.2" r="5.3"/></g>
<g id="n223" class="n"><circle cx="278" cy="942.2" r="5.3"/></g>
<g id="n224" class="n"><circle cx="162" cy="962.5" r="5.3"/></g>
<g id="n225" class="n"><circle cx="211.3" cy="962.5" r="5.3"/></g>
<g id="n226" class="n"><circle cx="244.7" cy="962.5" r="5.3"/></g>
<g id="n227" class="n"><circle cx="278" cy="962.5" r="5.3"/></g>
<g id="n228" class="n"><circle cx="311.3" cy="962.5" r="5.3"/></g>
<g id="n229" class="n"><circle cx="162" cy="982.8" r="5.3"/></g>
<g id="n230" class="n"><circle cx="211.3" cy="982.8" r="5.3"/></g>
<g id="n231" class="n"><circle cx="244.7" cy="982.8" r="5.3"/></g>
<g id="n232" class="n"><circle cx="278" cy="982.8" r="5.3"/></g>
<g id="n233" class="n"><circle cx="311.3" cy="982.8" r="5.3"/></g>
<g id="n234" class="n"><circle cx="128.7" cy="1003" r="5.3"/></g>
<g id="n235" class="n"><circle cx="162" cy="1003" r="5.3"/></g>
<g id="n236" class="n"><circle cx="206" cy="1003" r="5.3"/></g>
<g id="n237" class="n"><circle cx="239.3" cy="1003" r="5.3"/></g>
<g id="n238" class="n"><circle cx="272.7" cy="1003" r="5.3"/></g>
<g id="n239" class="n"><circle cx="306" cy="1003" r="5.3"/></g>
<g id="n240" class="n"><circle cx="339.3" cy="1003" r="5.3"/></g>
<g id="n241" class="n"><circle cx="128.7" cy="1023.3" r="5.3"/></g>
<g id="n242" class="n"><circle cx="162" cy="1023.3" r="5.3"/></g>
<g id="n243" class="n"><circle cx="206" cy="1023.3" r="5.3"/></g>
<g id="n244" class="n"><circle cx="239.3" cy="1023.3" r="5.3"/></g>
<g id="n245" class="n"><circle cx="272.7" cy="1023.3" r="5.3"/></g>
<g id="n246" class="n"><circle cx="306" cy="1023.3" r="5.3"/></g>
<g id="n247" class="n"><circle cx="339.3" cy="1023.3" r="5.3"/></g>
<g id="n248" class="n"><circle cx="139.3" cy="1043.6" r="5.3"/></g>
<g id="n249" class="n"><circle cx="172.7" cy="1043.6" r="5.3"/></g>
<g id="n250" class="n"><circle cx="206" cy="1043.6" r="5.3"/></g>
<g id="n251" class="n"><circle cx="239.3" cy="1043.6" r="5.3"/></g>
<g id="n252" class="n"><circle cx="272.7" cy="1043.6" r="5.3"/></g>
<g id="n253" class="n"><circle cx="323.3" cy="1043.6" r="5.3"/></g>
<g id="n254" class="n"><circle cx="139.3" cy="1063.8" r="5.3"/></g>
<g id="n255" class="n"><circle cx="172.7" cy="1063.8" r="5.3"/></g>
<g id="n256" class="n"><circle cx="206" cy="1063.8" r="5.3"/></g>
<g id="n257" class="n"><circle cx="239.3" cy="1063.8" r="5.3"/></g>
<g id="n258" class="n"><circle cx="272.7" cy="1063.8" r="5.3"/></g>
<g id="n259" class="n"><circle cx="339.3" cy="1063.8" r="5.3"/></g>
<g id="n260" class="n"><circle cx="139.3" cy="1084.1" r="5.3"/></g>
<g id="n261" class="n"><circle cx="206" cy="1084.1" r="5.3"/></g>
<g id="n262" class="n"><circle cx="239.3" cy="1084.1" r="5.3"/></g>
<g id="n263" class="n"><circle cx="272.7" cy="1084.1" r="5.3"/></g>
<g id="n264" class="n"><circle cx="306" cy="1084.1" r="5.3"/></g>
<g id="n265" class="n"><circle cx="339.3" cy="1084.1" r="5.3"/></g>
<g id="n266" class="n"><circle cx="372.7" cy="1084.1" r="5.3"/></g>
<g id="n267" class="n"><circle cx="139.3" cy="1104.4" r="5.3"/></g>
<g id="n268" class="n"><circle cx="206" cy="1104.4" r="5.3"/></g>
<g id="n269" class="n"><circle cx="239.3" cy="1104.4" r="5.3"/></g>
<g id="n270" class="n"><circle cx="272.7" cy="1104.4" r="5.3"/></g>
<g id="n271" class="n"><circle cx="306" cy="1104.4" r="5.3"/></g>
<g id="n272" class="n"><circle cx="339.3" cy="1104.4" r="5.3"/></g>
<g id="n273" class="n"><circle cx="372.7" cy="1104.4" r="5.3"/></g>
<g id="n274" class="n"><circle cx="139.3" cy="1124.6" r="5.3"/></g>
<g id="n275" class="n"><circle cx="206" cy="1124.6" r="5.3"/></g>
<g id="n276" class="n"><circle cx="239.3" cy="1124.6" r="5.3"/></g>
<g id="n277" class="n"><circle cx="306" cy="1124.6" r="5.3"/></g>
<g id="n278" class="n"><circle cx="339.3" cy="1124.6" r="5.3"/></g>
<g id="n279" class="n"><circle cx="372.7" cy="1124.6" r="5.3"/></g>
<g id="n280" class="n"><circle cx="139.3" cy="1144.9" r="5.3"/></g>
<g id="n281" class="n"><circle cx="206" cy="1144.9" r="5.3"/></g>
<g id="n282" class="n"><circle cx="239.3" cy="1144.9" r="5.3"/></g>
<g id="n283" class="n"><circle cx="306" cy="1144.9" r="5.3"/></g>
<g id="n284" class="n"><circle cx="339.3" cy="1144.9" r="5.3"/></g>
<g id="n285" class="n"><circle cx="372.7" cy="1144.9" r="5.3"/></g>
<g id="n286" class="n"><circle cx="206" cy="1165.2" r="5.3"/></g>
<g id="n287" class="n"><circle cx="239.3" cy="1165.2" r="5.3"/></g>
<g id="n288" class="n"><circle cx="306" cy="1165.2" r="5.3"/></g>
<g id="n289" class="n"><circle cx="339.3" cy="1165.2" r="5.3"/></g>
<g id="n290" class="n"><circle cx="372.7" cy="1165.2" r="5.3"/></g>
<g id="n291" class="n"><circle cx="406" cy="1165.2" r="5.3"/></g>
<g id="n292" class="n"><circle cx="206" cy="1185.4" r="5.3"/></g>
<g id="n293" class="n"><circle cx="239.3" cy="1185.4" r="5.3"/></g>
<g id="n294" class="n"><circle cx="306" cy="1185.4" r="5.3"/></g>
<g id="n295" class="n"><circle cx="339.3" cy="1185.4" r="5.3"/></g>
<g id="n296" class="n"><circle cx="372.7" cy="1185.4" r="5.3"/></g>
<g id="n297" class="n"><circle cx="406" cy="1185.4" r="5.3"/></g>
<g id="n298" class="n"><circle cx="206" cy="1205.7" r="5.3"/></g>
<g id="n299" class="n"><circle cx="239.3" cy="1205.7" r="5.3"/></g>
<g id="n300" class="n"><circle cx="306" cy="1205.7" r="5.3"/></g>
<g id="n301" class="n"><circle cx="339.3" cy="1205.7" r="5.3"/></g>
<g id="n302" class="n"><circle cx="372.7" cy="1205.7" r="5.3"/></g>
<g id="n303" class="n"><circle cx="406" cy="1205.7" r="5.3"/></g>
<g id="n304" class="n"><circle cx="206" cy="1226" r="5.3"/></g>
<g id="n305" class="n"><circle cx="239.3" cy="1226" r="5.3"/></g>
<g id="n306" class="n"><circle cx="306" cy="1226" r="5.3"/></g>
<g id="n307" class="n"><circle cx="339.3" cy="1226" r="5.3"/></g>
<g id="n308" class="n"><circle cx="372.7" cy="1226" r="5.3"/></g>
<g id="n309" class="n"><circle cx="406" cy="1226" r="5.3"/></g>
<g id="n310" class="n"><circle cx="172.7" cy="1246.2" r="5.3"/></g>
<g id="n311" class="n"><circle cx="206" cy="1246.2" r="5.3"/></g>
<g id="n312" class="n"><circle cx="239.3" cy="1246.2" r="5.3"/></g>
<g id="n313" class="n"><circle cx="272.7" cy="1246.2" r="5.3"/></g>
<g id="n314" class="n"><circle cx="339.3" cy="1246.2" r="5.3"/></g>
<g id="n315" class="n"><circle cx="406" cy="1246.2" r="5.3"/></g>
<g id="n316" class="n"><circle cx="172.7" cy="1266.5" r="5.3"/></g>
<g id="n317" class="n"><circle cx="206" cy="1266.5" r="5.3"/></g>
<g id="n318" class="n"><circle cx="239.3" cy="1266.5" r="5.3"/></g>
<g id="n319" class="n"><circle cx="272.7" cy="1266.5" r="5.3"/></g>
<g id="n320" class="n"><circle cx="339.3" cy="1266.5" r="5.3"/></g>
<g id="n321" class="n"><circle cx="406" cy="1266.5" r="5.3"/></g>
<g id="n322" class="n"><circle cx="139.3" cy="1286.8" r="5.3"/></g>
<g id="n323" class="n"><circle cx="172.7" cy="1286.8" r="5.3"/></g>
<g id="n324" class="n"><circle cx="239.3" cy="1286.8" r="5.3"/></g>
<g id="n325" class="n"><circle cx="272.7" cy="1286.8" r="5.3"/></g>
<g id="n326" class="n"><circle cx="339.3" cy="1286.8" r="5.3"/></g>
<g id="n327" class="n"><circle cx="380.7" cy="1286.8" r="5.3"/></g>
<g id="n328" class="n"><circle cx="139.3" cy="1307" r="5.3"/></g>
<g id="n329" class="n"><circle cx="172.7" cy="1307" r="5.3"/></g>
<g id="n330" class="n"><circle cx="239.3" cy="1307" r="5.3"/></g>
<g id="n331" class="n"><circle cx="272.7" cy="1307" r="5.3"/></g>
<g id="n332" class="n"><circle cx="339.3" cy="1307" r="5.3"/></g>
<g id="n333" class="n"><circle cx="388.7" cy="1307" r="5.3"/></g>
<g id="n334" class="n"><circle cx="139.3" cy="1327.3" r="5.3"/></g>
<g id="n335" class="n"><circle cx="172.7" cy="1327.3" r="5.3"/></g>
<g id="n336" class="n"><circle cx="206" cy="1327.3" r="5.3"/></g>
<g id="n337" class="n"><circle cx="239.3" cy="1327.3" r="5.3"/></g>
<g id="n338" class="n"><circle cx="272.7" cy="1327.3" r="5.3"/></g>
<g id="n339" class="n"><circle cx="306" cy="1327.3" r="5.3"/></g>
<g id="n340" class="n"><circle cx="339.3" cy="1327.3" r="5.3"/></g>
<g id="n341" class="n"><circle cx="372.7" cy="1327.3" r="5.3"/></g>
<g id="n342" class="n"><circle cx="406" cy="1327.3" r="5.3"/></g>
<g id="n343" class="n"><circle cx="139.3" cy="1347.6" r="5.3"/></g>
<g id="n344" class="n"><circle cx="172.7" cy="1347.6" r="5.3"/></g>
<g id="n345" class="n"><circle cx="206" cy="1347.6" r="5.3"/></g>
<g id="n346" class="n"><circle cx="239.3" cy="1347.6" r="5.3"/></g>
<g id="n347" class="n"><circle cx="272.7" cy="1347.6" r="5.3"/></g>
<g id="n348" class="n"><circle cx="306" cy="1347.6" r="5.3"/></g>
<g id="n349" class="n"><circle cx="339.3" cy="1347.6" r="5.3"/></g>
<g id="n350" class="n"><circle cx="372.7" cy="1347.6" r="5.3"/></g>
<g id="n351" class="n"><circle cx="406" cy="1347.6" r="5.3"/></g>
<g id="n352" class="n"><circle cx="172.7" cy="1367.8" r="5.3"/></g>
<g id="n353" class="n"><circle cx="206" cy="1367.8" r="5.3"/></g>
<g id="n354" class="n"><circle cx="239.3" cy="1367.8" r="5.3"/></g>
<g id="n355" class="n"><circle cx="272.7" cy="1367.8" r="5.3"/></g>
<g id="n356" class="n"><circle cx="306" cy="1367.8" r="5.3"/></g>
<g id="n357" class="n"><circle cx="339.3" cy="1367.8" r="5.3"/></g>
<g id="n358" class="n"><circle cx="406" cy="1367.8" r="5.3"/></g>
<g id="n359" class="n"><circle cx="172.7" cy="1388.1" r="5.3"/></g>
<g id="n360" class="n"><circle cx="206" cy="1388.1" r="5.3"/></g>
<g id="n361" class="n"><circle cx="239.3" cy="1388.1" r="5.3"/></g>
<g id="n362" class="n"><circle cx="272.7" cy="1388.1" r="5.3"/></g>
<g id="n363" class="n"><circle cx="306" cy="1388.1" r="5.3"/></g>
<g id="n364" class="n"><circle cx="339.3" cy="1388.1" r="5.3"/></g>
<g id="n365" class="n"><circle cx="406" cy="1388.1" r="5.3"/></g>
<g id="n366" class="n"><circle cx="156.7" cy="1408.4" r="5.3"/></g>
<g id="n367" class="n"><circle cx="190" cy="1408.4" r="5.3"/></g>
<g id="n368" class="n"><circle cx="306" cy="1408.4" r="5.3"/></g>
<g id="n369" class="n"><circle cx="406" cy="1408.4" r="5.3"/></g>
<g id="n370" class="n"><circle cx="156.7" cy="1428.6" r="5.3"/></g>
<g id="n371" class="n"><circle cx="190" cy="1428.6" r="5.3"/></g>
<g id="n372" class="n"><circle cx="306" cy="1428.6" r="5.3"/></g>
<g id="n373" class="n"><circle cx="406" cy="1428.6" r="5.3"/></g>
<g id="n374" class="n"><circle cx="156.7" cy="1448.9" r="5.3"/></g>
<g id="n375" class="n"><circle cx="190" cy="1448.9" r="5.3"/></g>
<g id="n376" class="n"><circle cx="306" cy="1448.9" r="5.3"/></g>
<g id="n377" class="n"><circle cx="402" cy="1448.9" r="5.3"/></g>
<g id="n378" class="n"><circle cx="435.3" cy="1448.9" r="5.3"/></g>
<g id="n379" class="n"><circle cx="156.7" cy="1469.2" r="5.3"/></g>
<g id="n380" class="n"><circle cx="190" cy="1469.2" r="5.3"/></g>
<g id="n381" class="n"><circle cx="306" cy="1469.2" r="5.3"/></g>
<g id="n382" class="n"><circle cx="402" cy="1469.2" r="5.3"/></g>
<g id="n383" class="n"><circle cx="435.3" cy="1469.2" r="5.3"/></g>
<g id="n384" class="n"><circle cx="156.7" cy="1489.4" r="5.3"/></g>
<g id="n385" class="n"><circle cx="306" cy="1489.4" r="5.3"/></g>
<g id="n386" class="n"><circle cx="402" cy="1489.4" r="5.3"/></g>
<g id="n387" class="n"><circle cx="435.3" cy="1489.4" r="5.3"/></g>
<g id="n388" class="n"><circle cx="156.7" cy="1509.7" r="5.3"/></g>
<g id="n389" class="n"><circle cx="306" cy="1509.7" r="5.3"/></g>
<g id="n390" class="n"><circle cx="402" cy="1509.7" r="5.3"/></g>
<g id="n391" class="n"><circle cx="435.3" cy="1509.7" r="5.3"/></g>
<g id="n392" class="n"><circle cx="156.7" cy="1530" r="5.3"/></g>
<g id="n393" class="n"><circle cx="306" cy="1530" r="5.3"/></g>
<g id="n394" class="n"><circle cx="435.3" cy="1530" r="5.3"/></g>
<g id="n395" class="n"><circle cx="156.7" cy="1550.2" r="5.3"/></g>
<g id="n396" class="n"><circle cx="306" cy="1550.2" r="5.3"/></g>
<g id="n397" class="n"><circle cx="435.3" cy="1550.2" r="5.3"/></g>
<g id="n398" class="n"><circle cx="156.7" cy="1570.5" r="5.3"/></g>
<g id="n399" class="n"><circle cx="306" cy="1570.5" r="5.3"/></g>
<g id="n400" class="n"><circle cx="435.3" cy="1570.5" r="5.3"/></g>
<g id="n401" class="n"><circle cx="156.7" cy="1590.7" r="5.3"/></g>
<g id="n402" class="n"><circle cx="306" cy="1590.7" r="5.3"/></g>
<g id="n403" class="n"><circle cx="435.3" cy="1590.7" r="5.3"/></g>
<g id="n404" class="n"><circle cx="280.7" cy="1611" r="5.3"/></g>
<g id="n405" class="n"><circle cx="314" cy="1611" r="5.3"/></g>
<g id="n406" class="n"><circle cx="402" cy="1611" r="5.3"/></g>
<g id="n407" class="n"><circle cx="435.3" cy="1611" r="5.3"/></g>
<g id="n408" class="n"><circle cx="468.7" cy="1611" r="5.3"/></g>
<g id="n409" class="n"><circle cx="280.7" cy="1631.3" r="5.3"/></g>
<g id="n410" class="n"><circle cx="314" cy="1631.3" r="5.3"/></g>
<g id="n411" class="n"><circle cx="402" cy="1631.3" r="5.3"/></g>
<g id="n412" class="n"><circle cx="435.3" cy="1631.3" r="5.3"/></g>
<g id="n413" class="n"><circle cx="468.7" cy="1631.3" r="5.3"/></g>
<g id="n414" class="n"><circle cx="247.3" cy="1651.5" r="5.3"/></g>
<g id="n415" class="n"><circle cx="280.7" cy="1651.5" r="5.3"/></g>
<g id="n416" class="n"><circle cx="314" cy="1651.5" r="5.3"/></g>
<g id="n417" class="n"><circle cx="347.3" cy="1651.5" r="5.3"/></g>
<g id="n418" class="n"><circle cx="402" cy="1651.5" r="5.3"/></g>
<g id="n419" class="n"><circle cx="435.3" cy="1651.5" r="5.3"/></g>
<g id="n420" class="n"><circle cx="247.3" cy="1671.8" r="5.3"/></g>
<g id="n421" class="n"><circle cx="280.7" cy="1671.8" r="5.3"/></g>
<g id="n422" class="n"><circle cx="314" cy="1671.8" r="5.3"/></g>
<g id="n423" class="n"><circle cx="347.3" cy="1671.8" r="5.3"/></g>
<g id="n424" class="n"><circle cx="402" cy="1671.8" r="5.3"/></g>
<g id="n425" class="n"><circle cx="435.3" cy="1671.8" r="5.3"/></g>
<g id="n426" class="n"><circle cx="231.3" cy="1692.1" r="5.3"/></g>
<g id="n427" class="n"><circle cx="264.7" cy="1692.1" r="5.3"/></g>
<g id="n428" class="n"><circle cx="330" cy="1692.1" r="5.3"/></g>
<g id="n429" class="n"><circle cx="363.3" cy="1692.1" r="5.3"/></g>
<g id="n430" class="n"><circle cx="402" cy="1692.1" r="5.3"/></g>
<g id="n431" class="n"><circle cx="231.3" cy="1712.3" r="5.3"/></g>
<g id="n432" class="n"><circle cx="264.7" cy="1712.3" r="5.3"/></g>
<g id="n433" class="n"><circle cx="330" cy="1712.3" r="5.3"/></g>
<g id="n434" class="n"><circle cx="363.3" cy="1712.3" r="5.3"/></g>
<g id="n435" class="n"><circle cx="402" cy="1712.3" r="5.3"/></g>
<g id="n436" class="n"><circle cx="363.3" cy="1732.6" r="5.3"/></g>
<g id="n437" class="n"><circle cx="363.3" cy="1752.9" r="5.3"/></g>
<g id="n438" class="n"><circle cx="363.3" cy="1773.1" r="5.3"/></g>
<g id="n439" class="n"><circle cx="363.3" cy="1793.4" r="5.3"/></g>
<g id="n440" class="n"><circle cx="347.3" cy="1813.7" r="5.3"/></g>
<g id="n441" class="n"><circle cx="380.7" cy="1813.7" r="5.3"/></g>
<g id="n442" class="n"><circle cx="347.3" cy="1833.9" r="5.3"/></g>
<g id="n443" class="n"><circle cx="380.7" cy="1833.9" r="5.3"/></g>
<g id="n444" class="n"><circle cx="347.3" cy="1854.2" r="5.3"/></g>
<g id="n445" class="n"><circle cx="380.7" cy="1854.2" r="5.3"/></g>
<g id="n446" class="n"><circle cx="347.3" cy="1874.5" r="5.3"/></g>
<g id="n447" class="n"><circle cx="380.7" cy="1874.5" r="5.3"/></g>
<g id="n448" class="n"><circle cx="380.7" cy="1894.7" r="5.3"/></g>
<g id="n449" class="n"><circle cx="380.7" cy="1915" r="5.3"/></g>
</g>
</svg>
